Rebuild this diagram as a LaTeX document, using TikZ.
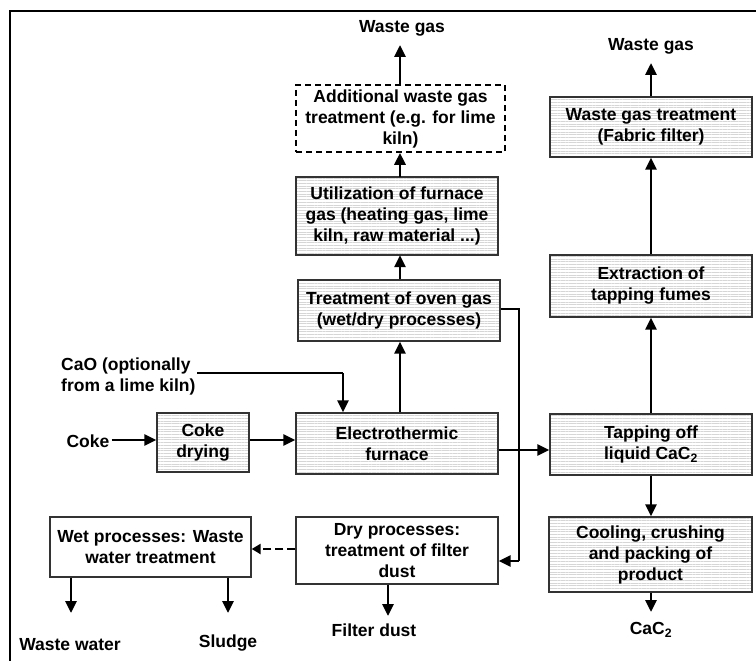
\documentclass[tikz,border=0pt]{standalone}
\usepackage{fontspec}
\setmainfont{Liberation Sans}
\usetikzlibrary{arrows.meta,patterns.meta}
\begin{document}
\begin{tikzpicture}[x=1pt,y=-1pt,
  txt/.style={font=\bfseries\fontsize{17.5}{21}\selectfont, align=center, inner sep=0pt},
  plainbox/.style={txt, draw=black!80, line width=1.3pt, fill=white},
  hatchbox/.style={plainbox, pattern={Lines[angle=0,distance=2.7pt,line width=0.35pt]}, pattern color=black!16},
  dashbox/.style={txt, draw=black, line width=1.6pt, dash pattern=on 6pt off 4pt},
  flow/.style={line width=2.8pt, -{Triangle[length=12pt,width=11pt]}},
  thinflow/.style={line width=1.3pt},
  dflow/.style={line width=2.8pt, dash pattern=on 8pt off 4pt, -{Triangle[length=9pt,width=10pt]}}
]
\useasboundingbox (0,0) rectangle (756,661);
% frame (clipped on right and bottom)
\draw[line width=2pt] (10,680) -- (10,11) -- (780,11);

% boxes
\node[dashbox, minimum width=209pt, minimum height=67pt] (add) at (400.5,118.5)
  {Additional waste gas\\treatment (e.g. for lime\\kiln)};
\node[hatchbox, minimum width=202pt, minimum height=78pt] (util) at (397,216)
  {Utilization of furnace\\gas (heating gas, lime\\kiln, raw material ...)};
\node[hatchbox, minimum width=202pt, minimum height=61pt] (oven) at (399,310.5)
  {Treatment of oven gas\\(wet/dry processes)};
\node[hatchbox, minimum width=202pt, minimum height=60pt] (fab) at (651,127)
  {Waste gas treatment\\(Fabric filter)};
\node[hatchbox, minimum width=202pt, minimum height=62pt] (ext) at (651,286)
  {Extraction of\\tapping fumes};
\node[hatchbox, minimum width=92pt, minimum height=59pt] (cdry) at (203,442.5)
  {Coke\\drying};
\node[hatchbox, minimum width=202pt, minimum height=61pt] (furn) at (397,443.5)
  {Electrothermic\\furnace};
\node[hatchbox, minimum width=202pt, minimum height=61pt] (tap) at (651,444.5)
  {Tapping off\\liquid CaC\textsubscript{2}};
\node[plainbox, minimum width=201pt, minimum height=60pt] (wet) at (150.5,547)
  {Wet processes: Waste\\water treatment};
\node[plainbox, minimum width=202pt, minimum height=67pt] (dry) at (397,550.5)
  {Dry processes:\\treatment of filter\\dust};
\node[hatchbox, minimum width=203pt, minimum height=75pt] (cool) at (650.5,554.5)
  {Cooling, crushing\\and packing of\\product};

% labels
\node[txt] (wg1) at (402,28) {Waste gas};
\node[txt] (wg2) at (651,46) {Waste gas};
\node[txt, align=left, anchor=west] (cao) at (61,376) {CaO (optionally\\from a lime kiln)};
\node[txt] (coke) at (88,441) {Coke};
\node[txt] (ww) at (70,645) {Waste water};
\node[txt] (sl) at (228,643) {Sludge};
\node[txt] (fd) at (374,630) {Filter dust};
\node[txt] (cac) at (651,630) {CaC\textsubscript{2}};

% coordinates
\coordinate (wg1a) at (400,45);
\coordinate (wg2a) at (651,63);
\coordinate (caoe) at (197,373);
\coordinate (caoc) at (343,373);
\coordinate (ovr) at (519,309);
\coordinate (ovd) at (519,561);
\coordinate (drya) at (388,616);
\coordinate (weta) at (71,613);
\coordinate (wetb) at (228,613);
\coordinate (cacA) at (651,612);

% connectors
\draw[flow] (coke.east) ++(2,-1) -- (cdry.west |- 0,440);
\draw[flow] (cdry.east |- 0,440) -- (furn.west |- 0,440);
\draw[line width=2.8pt] (caoe) -- (caoc);
\draw[flow] (caoc) -- (caoc |- furn.north);
\draw[flow] (furn.north -| 400,0) -- (oven.south -| 400,0);
\draw[flow] (oven.north -| 400,0) -- (util.south -| 400,0);
\draw[flow] (util.north -| 400,0) -- (add.south -| 400,0);
\draw[flow] (add.north -| 400,0) -- (wg1a);
\draw[flow] (furn.east |- 0,450) -- (tap.west |- 0,450);
\draw[flow] (tap.north -| 651,0) -- (ext.south -| 651,0);
\draw[flow] (ext.north -| 651,0) -- (fab.south -| 651,0);
\draw[flow] (fab.north -| 651,0) -- (wg2a);
\draw[flow] (tap.south -| 651,0) -- (cool.north -| 651,0);
\draw[flow] (cool.south -| 651,0) -- (cacA);
\draw[thinflow] (oven.east |- ovr) -- (ovr) -- (ovd);
\draw[flow] (ovd) -- (dry.east |- ovd);
\draw[dflow] (dry.west |- 0,549) -- (wet.east |- 0,549);
\draw[flow] (dry.south -| drya) -- (drya);
\draw[flow] (wet.south -| weta) -- (weta);
\draw[flow] (wet.south -| wetb) -- (wetb);
\end{tikzpicture}
\end{document}
